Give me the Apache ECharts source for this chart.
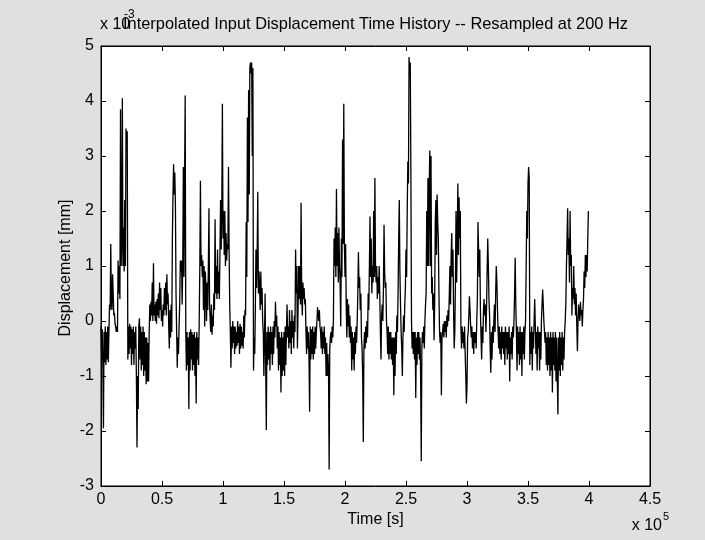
<!DOCTYPE html>
<html>
<head>
<meta charset="utf-8">
<script src="https://cdn.jsdelivr.net/npm/echarts@6/dist/echarts.min.js"></script>
<style>
html,body{margin:0;padding:0;background:#e0e0e0;}
#chart{width:705px;height:540px;}
</style>
</head>
<body>
<div id="chart"></div>
<script>
// ---- data (time in units of 1e5 s, displacement in units of 1e-3 mm) ----
const titleText = 'Interpolated Input Displacement Time History -- Resampled at 200 Hz';
const xAxisTitle = 'Time [s]';
const yAxisTitle = 'Displacement [mm]';
const xTickLabels = ['0','0.5','1','1.5','2','2.5','3','3.5','4','4.5'];
const yTickLabels = ['-3','-2','-1','0','1','2','3','4','5'];
const timeStart = 0;
const timeStep = 0.005;
const displacement = [
  -0.1, -0.7, -0.15, -0.8, -1.95, -0.2, -0.75, -0.1, -0.8, -0.2, -0.7, -0.1, -0.75, -0.2, 0.3, 0.2, 1.4, 0.3, 0.2, 0.85,
  0.5, 0.1, 0.15, -0.05, -0.1, -0.2, -0.1, -0.2, 1.1, 0.5, 1.0, 0.4, 3.85, 1.0, 1.4, 4.05, 1.0, 1.7, 0.9, 2.2,
  1.0, 3.5, 3.3, 3.45, -0.7, -0.1, -0.6, -0.05, -0.5, -0.1, -0.8, -0.15, -0.6, -0.1, -0.8, -0.2, -0.5, -0.1, -1.0, -2.3,
  -1.0, -1.6, -0.1, 0.05, -0.7, -0.1, -0.9, -0.2, -0.8, -0.1, -1.0, -0.2, -0.9, -0.3, -1.15, -0.3, -1.1, -0.4, -1.1, -0.2,
  0.3, 0.0, 0.35, 0.1, 0.7, 0.0, 1.05, 0.1, 0.3, 0.0, 0.35, -0.05, 0.4, 0.1, 0.5, 0.05, 0.7, 0.2, 0.6, 0.0,
  0.2, -0.1, 0.3, 0.1, 0.6, 0.2, 0.7, 0.1, 0.85, 0.3, 0.5, -0.1, -0.5, 0.2, -0.3, 0.3, -0.2, 1.5, 2.3, 2.85,
  2.3, 2.7, 2.1, 0.5, -0.2, -0.85, -0.3, -0.6, -0.1, 0.3, 1.1, 0.9, 1.1, 0.3, 1.0, 2.8, 0.8, 2.5, 4.1, -0.2,
  -0.9, -0.2, -0.8, -0.3, -1.6, -0.2, -0.9, -0.15, -0.7, -0.2, -0.9, -0.25, -0.8, -0.2, -1.0, -0.3, -1.5, -0.2, -0.7, -0.3,
  -0.8, 0.0, 1.0, 2.55, 1.0, 1.2, 0.8, 1.1, 0.2, 1.0, -0.1, 0.9, 0.6, 0.0, 0.7, 0.2, 1.0, 2.05, 0.3, 0.0,
  -0.2, 0.3, -0.25, 0.1, -0.1, 0.5, 0.2, 1.85, 0.5, 1.0, 0.4, 1.3, 0.5, 0.9, 0.4, 1.2, 2.2, 1.3, 2.0, 3.95,
  1.5, 2.0, 1.2, 2.0, 1.0, 1.6, 1.1, 1.4, 1.3, 2.8, 1.3, 0.3, -0.2, -0.85, -0.1, -0.5, 0.0, -0.4, -0.1, -0.6,
  -0.1, -0.5, -0.2, -0.45, 0.0, -0.4, -0.1, -0.6, -0.05, -0.5, -0.1, -0.45, -0.2, -0.5, 0.1, -0.3, 0.2, 0.1, 1.8, 0.8,
  3.7, 1.8, 4.2, 2.3, 4.6, 4.7, 4.5, 4.7, 3.0, 4.6, -0.9, -0.3, -0.6, 0.2, 1.3, 0.6, 1.2, 2.35, 0.5, 0.9,
  0.6, 0.2, 0.9, 0.3, 0.6, 0.0, -0.2, -1.0, -0.3, 0.5, -0.8, -1.98, -0.2, -0.8, -0.1, -0.7, -0.2, -0.9, -0.1, -0.6,
  -0.2, -0.8, -0.1, -0.6, 0.0, -0.3, 0.35, -0.1, 0.1, -0.5, -0.1, -0.9, -0.2, -0.8, -0.3, -1.3, -0.2, -1.0, -0.3, -0.9,
  -0.2, -1.0, -0.1, -0.8, -0.2, 0.3, -0.3, -0.1, -0.5, 0.2, -0.4, 0.0, -0.6, 0.2, -0.3, 0.0, -0.5, 0.1, -0.2, 1.3,
  0.5, 1.0, -0.5, 0.2, 1.0, 0.4, 1.0, 0.3, 2.15, 0.5, 0.1, 0.7, 0.4, 0.6, 0.3, 0.4, -0.2, -0.6, -0.1, -0.5,
  -0.2, -0.7, -1.65, -0.1, -0.7, -0.15, -0.6, -0.1, -0.7, -0.2, -0.6, -0.1, -0.5, -0.2, 0.0, 0.25, 0.1, 0.0, 0.2, -0.1,
  -0.2, -0.5, -0.1, -0.6, -0.2, -0.5, -0.1, -0.6, -0.3, -1.0, -0.4, -1.0, -0.6, -0.9, -2.7, -0.5, -0.3, -0.2, -0.4, -0.1,
  -0.3, 0.0, 1.5, 1.0, 1.7, 0.8, 2.4, 1.0, 1.6, 0.7, 1.7, 1.0, 0.7, -0.1, 1.5, 0.8, 3.3, 1.4, 3.95, 1.4,
  0.8, 1.4, 0.3, -0.3, 0.4, -0.1, 0.3, -0.3, 0.1, -0.4, -0.1, -0.9, -0.2, -0.7, -0.3, -0.9, -0.2, -0.6, -0.1, -0.4,
  0.0, 0.5, 1.25, 0.6, 0.8, 0.2, 0.5, -0.3, -0.5, -1.0, -2.2, -0.5, -0.2, -0.5, -0.1, -0.4, 0.0, -0.3, 0.5, 0.2,
  1.0, 1.9, 0.8, 1.5, 0.5, 1.0, 0.7, 2.0, 0.8, 2.6, 1.0, 0.7, 1.0, 0.4, 0.8, 0.5, 1.0, 0.5, -0.2, -0.7,
  0.1, 0.3, 0.0, 0.6, 1.75, 0.9, 0.6, 0.7, 0.0, -0.2, -0.6, -0.1, -0.7, -0.2, -0.6, -0.2, -0.7, -0.3, -0.8, -0.3,
  -1.35, -0.3, -1.0, -0.2, -0.6, 0.1, -0.2, 0.5, 1.5, 2.2, 0.9, 0.3, -0.2, -0.5, -1.0, -0.3, 0.1, -0.2, 0.3, 0.6,
  1.3, 0.8, 2.0, 2.9, 2.5, 4.8, 4.5, 4.7, 2.7, 0.0, -0.5, -0.2, -0.6, -0.2, -0.7, -0.2, -1.4, -0.3, -0.8, -0.2,
  -0.6, -0.2, -0.7, -0.3, -1.0, -2.55, -0.5, -0.2, -0.4, -0.1, -0.5, 0.0, 0.3, 0.5, 2.0, 1.0, 2.6, 1.0, 2.4, 3.1,
  1.0, 3.0, 0.5, 0.8, 0.2, 0.5, -0.35, 0.3, 1.8, 2.2, 1.2, 2.3, 1.8, 1.5, 0.5, -0.2, -0.4, -0.2, -1.35, -0.3,
  -0.2, -0.05, -0.3, 0.0, -0.2, 0.0, -0.3, 0.1, -0.1, 0.2, 0.0, 0.5, 1.0, 0.3, 1.2, 1.6, 0.8, 1.3, 0.2, -0.5,
  -0.2, 0.7, 2.0, 0.7, 1.5, 2.5, 1.2, 2.25, 1.5, 2.0, -0.1, -0.5, -0.1, -0.4, -0.2, -0.5, -0.1, -0.6, -1.0, -1.5,
  -1.2, -0.3, -0.2, 0.1, 0.45, 0.2, -0.1, -0.3, -0.1, -0.5, -0.2, -0.6, -0.2, -0.4, -0.2, -0.5, 0.0, 0.4, 1.8, 1.3,
  0.8, 1.3, 0.2, -0.3, -0.7, -0.1, -0.4, 0.2, 0.4, 0.1, 0.3, -0.2, 0.2, 0.9, 1.5, 1.0, 0.4, 0.1, -0.5, -0.94,
  -0.2, -0.7, -0.1, -0.4, 0.0, 0.3, -0.2, 0.5, 1.0, 0.7, 0.2, -0.2, -0.5, -0.1, -0.6, -0.2, -0.7, -0.1, -0.5, -0.2,
  -0.6, -0.2, -0.8, -0.1, -0.5, -0.2, -0.7, -0.2, -0.6, -0.1, -1.1, -0.3, -0.6, -0.2, -0.7, -0.1, -0.3, 0.0, 0.5, 1.15,
  0.3, -0.2, -0.9, -0.1, -0.6, -0.2, -0.8, -0.1, -0.7, -0.2, -1.0, -0.2, -0.6, -0.1, -0.7, -0.2, 0.0, 1.0, 2.0, 1.5,
  2.5, 2.8, 2.6, -0.8, -0.2, -0.6, -0.1, -0.9, -0.2, -0.5, 0.0, 0.4, -0.1, -0.6, -0.2, -0.9, -0.1, -0.5, -0.2, -0.9,
  -0.2, -0.7, 0.0, 0.3, 0.57, 0.3, 0.0, -0.2, -0.4, -0.2, -0.8, -0.3, -0.9, -0.2, -0.8, -0.3, -1.0, -0.2, -0.9, -0.3,
  -1.3, -0.2, -0.8, -0.3, -0.9, -0.2, -1.1, -0.3, -1.0, -1.7, -0.3, -0.9, -0.2, -1.0, -0.3, -0.8, -0.2, -0.9, -0.3, -0.7,
  -0.2, 0.0, 0.3, 1.0, 1.5, 2.05, 1.2, 1.5, 0.7, 2.0, 1.0, 1.2, 0.1, 0.6, 0.4, 1.0, 0.3, 0.6, 0.1, 0.5,
  -0.1, -0.55, 0.0, 0.3, 0.1, 0.0, 0.35, 0.1, 0.2, -0.1, 0.2, 0.4, 0.9, 0.6, 1.2, 0.8, 1.2, 0.9, 1.5, 2.0
];

// ---- chart ----
const FONT = "'Liberation Sans', Arial, Helvetica, sans-serif";
const seriesData = displacement.map((v, i) => [timeStart + i * timeStep, v]);

const chart = echarts.init(document.getElementById('chart'), null, {renderer: 'canvas'});

const gridL = 101, gridT = 46, gridR = 55, gridB = 54;
const plotCx = gridL + (705 - gridL - gridR) / 2;

function axisCommon(extra) {
  return Object.assign({
    type: 'value',
    axisLine: {show: true, onZero: false, lineStyle: {color: '#000', width: 1}},
    axisTick: {show: true, inside: true, length: 5, lineStyle: {color: '#000', width: 1}},
    splitLine: {show: false},
  }, extra);
}

chart.setOption({
  animation: false,
  backgroundColor: '#e0e0e0',
  grid: {left: gridL, top: gridT, right: gridR, bottom: gridB, show: true,
         backgroundColor: '#ffffff', borderColor: '#000', borderWidth: 1, containLabel: false},
  xAxis: [
    axisCommon({min: 0, max: 4.5, interval: 0.5, position: 'bottom',
      axisLabel: {show: true, color: '#000', fontSize: 16, fontFamily: FONT, margin: 6,
        showMinLabel: true, showMaxLabel: true,
        formatter: (v) => xTickLabels[Math.round(v / 0.5)]}}),
    axisCommon({min: 0, max: 4.5, interval: 0.5, position: 'top', axisLabel: {show: false}})
  ],
  yAxis: [
    axisCommon({min: -3, max: 5, interval: 1, position: 'left',
      axisLabel: {show: true, color: '#000', fontSize: 16, fontFamily: FONT, margin: 7,
        showMinLabel: true, showMaxLabel: true,
        formatter: (v) => yTickLabels[Math.round(v + 3)]}}),
    axisCommon({min: -3, max: 5, interval: 1, position: 'right', axisLabel: {show: false}})
  ],
  series: [{
    type: 'line',
    data: seriesData,
    showSymbol: false,
    symbol: 'none',
    sampling: null,
    silent: true,
    lineStyle: {color: '#000', width: 1.3},
    xAxisIndex: 0, yAxisIndex: 0
  }],
  graphic: [
    {type: 'text', x: plotCx, y: 24, silent: true,
     style: {text: titleText, font: '16.4px ' + FONT, fill: '#000', align: 'center', verticalAlign: 'middle'}},
    {type: 'text', x: 100, y: 25, silent: true,
     style: {text: 'x 10', font: '16px ' + FONT, fill: '#000', align: 'left', verticalAlign: 'middle'}},
    {type: 'text', x: 124, y: 15, silent: true,
     style: {text: '-3', font: '12px ' + FONT, fill: '#000', align: 'left', verticalAlign: 'middle'}},
    {type: 'text', x: plotCx, y: 520, silent: true,
     style: {text: xAxisTitle, font: '16px ' + FONT, fill: '#000', align: 'center', verticalAlign: 'middle'}},
    {type: 'text', x: 66, y: 268, rotation: Math.PI / 2, silent: true,
     style: {text: yAxisTitle, font: '16px ' + FONT, fill: '#000', align: 'center', verticalAlign: 'middle'}},
    {type: 'text', x: 662, y: 526, silent: true,
     style: {text: 'x 10', font: '16px ' + FONT, fill: '#000', align: 'right', verticalAlign: 'middle'}},
    {type: 'text', x: 663, y: 517, silent: true,
     style: {text: '5', font: '11px ' + FONT, fill: '#000', align: 'left', verticalAlign: 'middle'}}
  ]
});
</script>
</body>
</html>
